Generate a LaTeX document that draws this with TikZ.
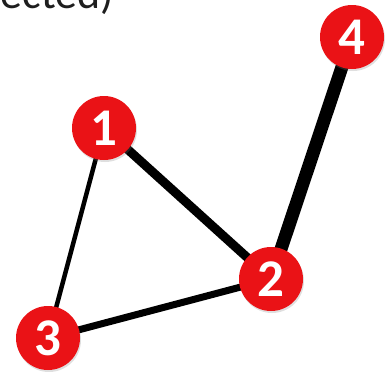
\documentclass[tikz,border=0pt]{standalone}
\usepackage{fontspec}
\setmainfont{Carlito}
\usetikzlibrary{shadows}
\definecolor{nodered}{RGB}{234,18,22}
\definecolor{txtdark}{RGB}{30,30,30}
\tikzset{
  vnode/.style={circle, fill=nodered, minimum size=64pt, inner sep=0pt,
    text=white, font=\fontsize{53}{53}\selectfont\bfseries,
    drop shadow={opacity=0.25, shadow xshift=1pt, shadow yshift=-2pt}},
  edge/.style={draw=black, line cap=butt}
}
\begin{document}
\begin{tikzpicture}[x=1pt,y=-1pt]
\useasboundingbox (0,0) rectangle (386,372);
\clip (0,0) rectangle (386,372);
\node[anchor=base east, inner sep=0pt, text=txtdark, font=\fontsize{44}{44}\selectfont] (title) at (114,9) {ected)};
\coordinate (p1) at (104,128);
\coordinate (p2) at (271,279);
\coordinate (p3) at (48,338);
\coordinate (p4) at (352,37);
\draw[edge, line width=4.5pt] (p1) -- (p3);
\draw[edge, line width=7pt] (p3) -- (p2);
\draw[edge, line width=9pt] (p1) -- (p2);
\draw[edge, line width=13pt] (p2) -- (p4);
\node[vnode] (n1) at (p1) {1};
\node[vnode] (n2) at (p2) {2};
\node[vnode] (n3) at (p3) {3};
\node[vnode] (n4) at (p4) {4};
\end{tikzpicture}
\end{document}
